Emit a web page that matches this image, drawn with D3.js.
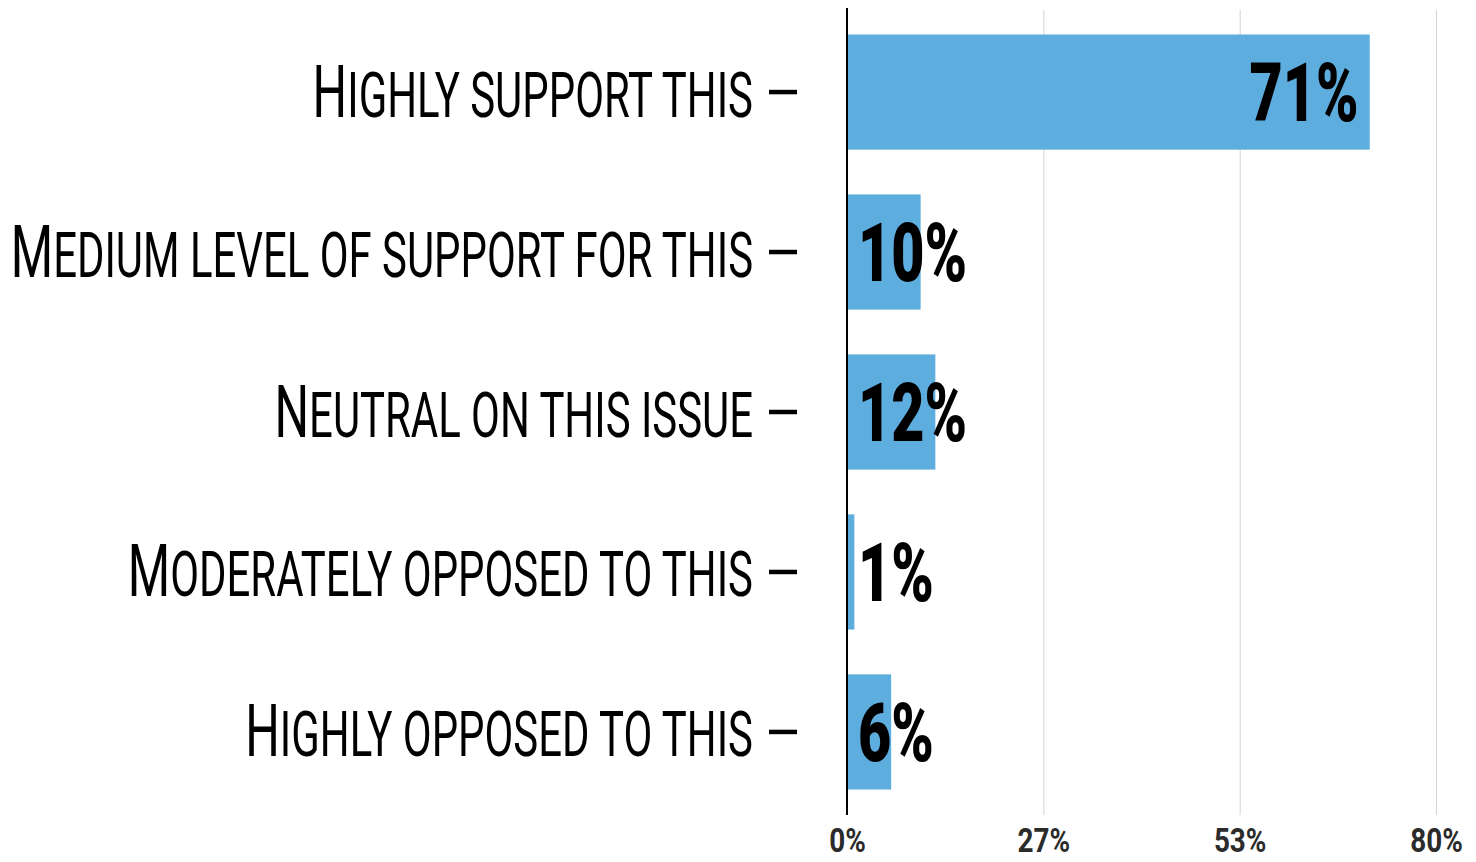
<!DOCTYPE html>
<html>
<head>
<meta charset="utf-8">
<script src="https://cdn.jsdelivr.net/npm/d3@7"></script>
<style>
  html, body { margin: 0; padding: 0; background: #fff; }
  svg { display: block; }
</style>
</head>
<body>
<svg id="chart" width="1476" height="862"></svg>
<script>
// Survey responses: share of respondents per level of support
const categories = [
  "Highly support this",
  "Medium level of support for this",
  "Neutral on this issue",
  "Moderately opposed to this",
  "Highly opposed to this"
];
const shares = [71, 10, 12, 1, 6];

// Value axis ticks
const xTickValues = [0, 26.667, 53.333, 80];
const xTickLabels = ["0%", "27%", "53%", "80%"];

const rows = categories.map((c, i) => ({ category: c, share: shares[i] }));

const svg = d3.select("#chart");
const plot = { left: 847, right: 1436, top: 10, bottom: 814 };

const BAR_COLOR = "#5daedf";
const FONT = "Roboto, 'Open Sans', sans-serif";

const x = d3.scaleLinear().domain([0, 80]).range([plot.left, plot.right]);
const y = d3.scaleBand()
  .domain(categories)
  .range([plot.top, plot.bottom])
  .paddingInner(0.28)
  .paddingOuter(0.153);

// Vertical gridlines
const grid = svg.append("g")
  .attr("transform", `translate(0,${plot.top})`)
  .call(d3.axisTop(x).tickValues(xTickValues).tickSize(-(plot.bottom + 1 - plot.top)).tickFormat(""));
grid.select(".domain").remove();
grid.selectAll(".tick line").attr("stroke", "#d2d2d2").attr("stroke-width", 1);

// Value axis labels
const xAxis = svg.append("g")
  .attr("transform", `translate(0,${plot.bottom + 1})`)
  .call(d3.axisBottom(x).tickValues(xTickValues).tickSize(0)
    .tickFormat((d, i) => xTickLabels[i]));
xAxis.select(".domain").remove();
xAxis.selectAll(".tick text")
  .attr("y", 37)
  .attr("dy", null)
  .attr("transform", "scale(0.82,1)")
  .attr("fill", "#2b2b2b")
  .style("font-family", FONT)
  .style("font-weight", 700)
  .style("font-size", "34px");

// Bars
svg.append("g")
  .selectAll("rect")
  .data(rows)
  .join("rect")
  .attr("x", x(0) + 1)
  .attr("y", d => y(d.category))
  .attr("width", d => x(d.share) - x(0) - 1)
  .attr("height", y.bandwidth())
  .attr("fill", BAR_COLOR);

// Baseline at zero
svg.append("line")
  .attr("x1", x(0)).attr("x2", x(0))
  .attr("y1", plot.top - 2).attr("y2", plot.bottom + 1)
  .attr("stroke", "#000")
  .attr("stroke-width", 2);

// Category dashes (tick marks)
const yTicks = svg.append("g")
  .attr("transform", "translate(797,0)")
  .call(d3.axisLeft(y).tickSize(28).tickFormat(""));
yTicks.select(".domain").remove();
yTicks.selectAll(".tick line").attr("stroke", "#000").attr("stroke-width", 4.5);

// Category labels in small caps: first letter full size, remainder smaller capitals
const labelScale = 0.665;
const labels = svg.append("g")
  .selectAll("text")
  .data(rows)
  .join("text")
  .attr("transform", d => `translate(753,${y(d.category) + y.bandwidth() / 2 + 24.5}) scale(${labelScale},1)`)
  .attr("text-anchor", "end")
  .attr("fill", "#000")
  .style("font-family", FONT)
  .style("font-weight", 400);
labels.append("tspan")
  .style("font-size", "73px")
  .text(d => d.category.charAt(0).toUpperCase());
labels.append("tspan")
  .style("font-size", "63px")
  .text(d => d.category.slice(1).toUpperCase());

// Value labels: inside the bar end when it fits, otherwise just past the baseline
const valueScale = 0.7;
svg.append("g")
  .selectAll("text")
  .data(rows)
  .join("text")
  .attr("transform", d => {
    const wide = x(d.share) - x(0) > 150;
    const tx = wide ? x(d.share) - 11 : x(0) + 11;
    return `translate(${tx},${y(d.category) + y.bandwidth() / 2 + 29}) scale(${valueScale},1)`;
  })
  .attr("text-anchor", d => (x(d.share) - x(0) > 150 ? "end" : "start"))
  .attr("fill", "#000")
  .style("font-family", FONT)
  .style("font-weight", 900)
  .style("font-size", "82px")
  .text(d => d.share + "%");
</script>
</body>
</html>
